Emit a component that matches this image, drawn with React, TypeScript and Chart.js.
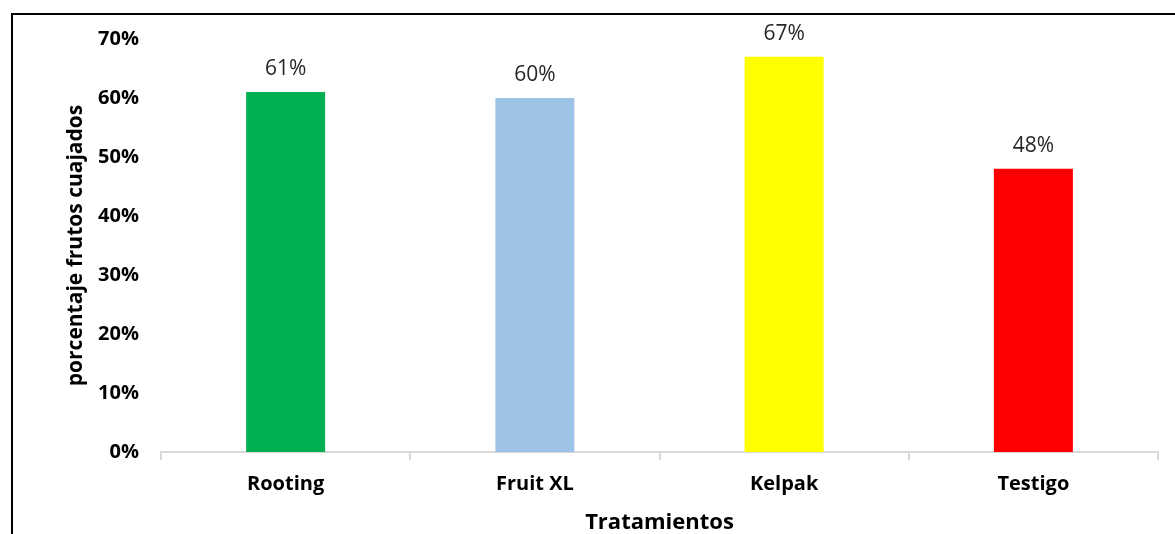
import React, { useEffect, useRef } from "react";
import { Chart, registerables } from "chart.js";

Chart.register(...registerables);

const categories = ["Rooting", "Fruit XL", "Kelpak", "Testigo"];
const values = [0.61, 0.6, 0.67, 0.48];
const barColors = ["#00B050", "#9DC3E6", "#FFFF00", "#FF0000"];
const yTickMax = 0.7;
const yTickStep = 0.1;
const yTitle = "porcentaje frutos cuajados";
const xTitle = "Tratamientos";

const FONT = "'Open Sans', 'Noto Sans', sans-serif";

const dataLabelPlugin = {
  id: "dataLabels",
  afterDatasetsDraw(chart: any) {
    const ctx = chart.ctx;
    const meta = chart.getDatasetMeta(0);
    ctx.save();
    ctx.font = `400 21px ${FONT}`;
    ctx.fillStyle = "#262626";
    ctx.textAlign = "center";
    ctx.textBaseline = "middle";
    meta.data.forEach((el: any, i: number) => {
      const v = chart.data.datasets[0].data[i] as number;
      ctx.fillText(Math.round(v * 100) + "%", el.x, el.y - 23);
    });
    ctx.restore();
  },
};

export default function App() {
  const ref = useRef<HTMLCanvasElement | null>(null);

  useEffect(() => {
    if (!ref.current) return;
    const chart = new Chart(ref.current, {
      type: "bar",
      data: {
        labels: categories,
        datasets: [
          {
            data: values,
            backgroundColor: barColors,
            borderWidth: 0,
            categoryPercentage: 1,
            barPercentage: 0.317,
          },
        ],
      },
      options: {
        responsive: false,
        animation: false,
        layout: { padding: { top: 39, right: 17, left: 0, bottom: 0 } },
        plugins: {
          legend: { display: false },
          tooltip: { enabled: false },
        },
        scales: {
          x: {
            afterFit(scale: any) {
              scale.height = 82;
            },
            grid: {
              display: true,
              drawOnChartArea: false,
              drawTicks: true,
              tickLength: 8,
              color: "#D9D9D9",
              lineWidth: 2,
              offset: true,
            },
            border: { display: true, color: "#D9D9D9", width: 2 },
            ticks: {
              color: "#000000",
              font: { family: FONT, size: 20, weight: "bold" },
              padding: 12,
              maxRotation: 0,
            },
            title: {
              display: true,
              text: xTitle,
              color: "#000000",
              font: { family: FONT, size: 22, weight: "bold" },
              padding: { top: 0, bottom: -2 },
            },
          },
          y: {
            min: 0,
            max: yTickMax,
            afterFit(scale: any) {
              scale.width = 161;
            },
            grid: { display: false, drawTicks: false },
            border: { display: false },
            ticks: {
              stepSize: yTickStep,
              color: "#000000",
              font: { family: FONT, size: 20, weight: "bold" },
              padding: 22,
              callback: (v: any) => Math.round(Number(v) * 100) + "%",
            },
            title: {
              display: true,
              text: yTitle,
              color: "#000000",
              font: { family: FONT, size: 21, weight: "bold" },
              padding: { top: 63, bottom: 0 },
            },
          },
        },
      },
      plugins: [dataLabelPlugin],
    });
    return () => chart.destroy();
  }, []);

  return (
    <div
      style={{
        position: "fixed",
        left: 0,
        top: 0,
        width: 1175,
        height: 534,
        overflow: "hidden",
        background: "#ffffff",
      }}
    >
      <div
        style={{
          position: "absolute",
          left: 11,
          top: 13,
          width: 1300,
          height: 700,
          border: "2px solid #000000",
          boxSizing: "border-box",
        }}
      />
      <canvas
        ref={ref}
        width={1175}
        height={534}
        style={{ position: "absolute", left: 0, top: 0, width: 1175, height: 534 }}
      />
    </div>
  );
}
